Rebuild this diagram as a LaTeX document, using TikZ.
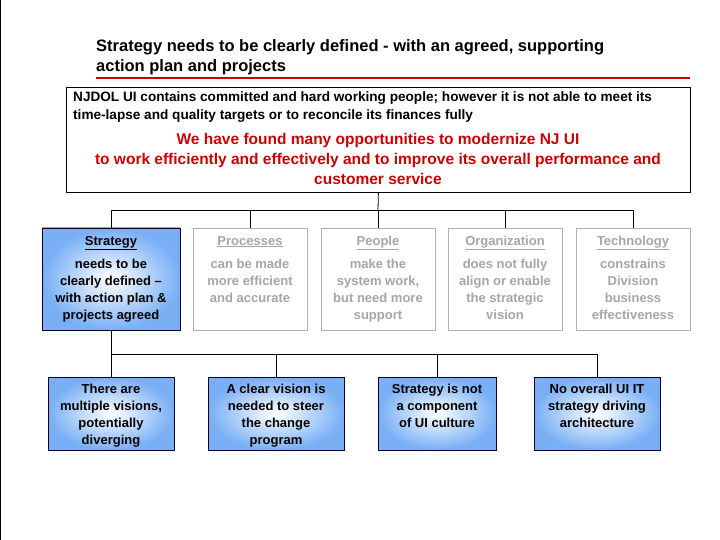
\documentclass[tikz,border=0pt]{standalone}
\usepackage{fontspec}
\setmainfont{Liberation Sans}
\begin{document}
\begin{tikzpicture}[x=1pt,y=-1pt,
  bx/.style={font=\bfseries\fontsize{13}{17}\selectfont,align=center},
  bluebox/.style={draw=black!85!blue,line width=0.8pt,inner color=white,outer color={rgb,255:red,120;green,175;blue,245}},
  greybox/.style={draw=black!30,line width=0.8pt},
  conn/.style={line width=0.8pt}]
\useasboundingbox (0,0) rectangle (720,540);
\fill[white] (0,0) rectangle (720,540);
\draw[line width=0.8pt] (0.5,0) -- (0.5,540);
\node[anchor=north west,align=left,font=\bfseries\fontsize{16.5}{20}\selectfont,inner sep=0] (title) at (96,39) {Strategy needs to be clearly defined - with an agreed, supporting\\action plan and projects};
\draw[red!80!black,line width=1.2pt] (96,78) -- (690,78);
\node[draw,line width=0.8pt,minimum width=624,minimum height=105,anchor=north west] (top) at (66,87) {};
\node[anchor=north west,align=left,font=\bfseries\fontsize{13.6}{18}\selectfont,inner sep=0] at (73,91) {NJDOL UI contains committed and hard working people; however it is not able to meet its\\time-lapse and quality targets or to reconcile its finances fully};
\node[align=center,text=red!80!black,font=\bfseries\fontsize{15.5}{20}\selectfont] at (378,159) {We have found many opportunities to modernize NJ UI\\to work efficiently and effectively and to improve its overall performance and\\customer service};
\node[bluebox,minimum width=138,minimum height=102] (s) at (111,279) {};
\node[greybox,minimum width=114,minimum height=102] (p) at (250,279) {};
\node[greybox,minimum width=114,minimum height=102] (pe) at (378,279) {};
\node[greybox,minimum width=114,minimum height=102] (o) at (505,279) {};
\node[greybox,minimum width=114,minimum height=102] (t) at (633,279) {};
\node[bx,anchor=base] at (111,245) {\underline{Strategy}};
\node[bx,anchor=north] at (111,256) {needs to be\\clearly defined –\\with action plan \&\\projects agreed};
\foreach \x/\h/\b in {250/Processes/{can be made\\more efficient\\and accurate},378/People/{make the\\system work,\\but need more\\support},505/Organization/{does not fully\\align or enable\\the strategic\\vision},633/Technology/{constrains\\Division\\business\\effectiveness}}{
  \node[bx,text=black!35,anchor=base] at (\x,245) {\underline{\h}};
  \node[bx,text=black!35,anchor=north] at (\x,256) {\b};
}
\draw[conn] (top.south) -- (378,210);
\draw[conn] (111,210) -- (633,210);
\foreach \n in {s,p,pe,o,t} \draw[conn] (\n.north) -- (\n.north |- 0,210);
\node[bluebox,minimum width=126,minimum height=73] (b1) at (111,413.5) {};
\node[bluebox,minimum width=136,minimum height=73] (b2) at (276,413.5) {};
\node[bluebox,minimum width=118,minimum height=73] (b3) at (437,413.5) {};
\node[bluebox,minimum width=126,minimum height=73] (b4) at (597,413.5) {};
\node[bx,anchor=north] at (111,381) {There are\\multiple visions,\\potentially\\diverging};
\node[bx,anchor=north] at (276,381) {A clear vision is\\needed to steer\\the change\\program};
\node[bx,anchor=north] at (437,381) {Strategy is not\\a component\\of UI culture};
\node[bx,anchor=north] at (597,381) {No overall UI IT\\strategy driving\\architecture};
\draw[conn] (s.south) -- (111,354);
\draw[conn] (111,354) -- (597,354);
\foreach \n in {b1,b2,b3,b4} \draw[conn] (\n.north) -- (\n.north |- 0,354);
\end{tikzpicture}
\end{document}
